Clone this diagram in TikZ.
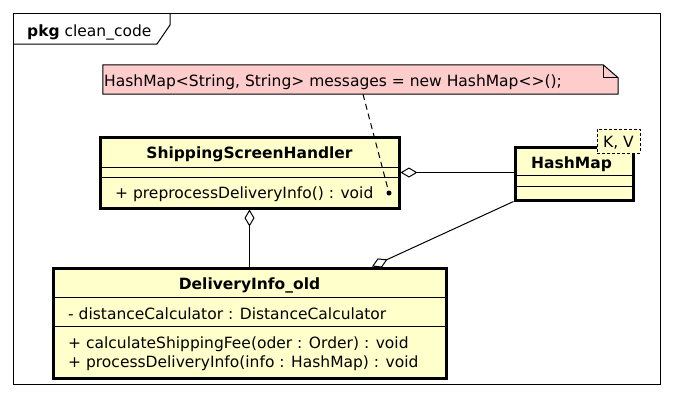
\documentclass[tikz,border=0pt]{standalone}
\usepackage{fontspec}
\setmainfont{DejaVu Sans}
\usetikzlibrary{arrows.meta, positioning, calc}
\definecolor{clsfill}{HTML}{FFFFCC}
\definecolor{notefill}{HTML}{FFCCCC}
\definecolor{ink}{HTML}{000000}

\tikzset{
  umltext/.style={font=\fontsize{15.5}{18}\selectfont, inner sep=0pt, text=ink},
  classbox/.style={draw=ink, fill=clsfill, line width=3pt, inner sep=0pt},
  sepline/.style={draw=ink, line width=1pt},
  aggr/.style={draw=ink, line width=1pt, {Diamond[open, length=17pt, width=10pt]}-},
  notelink/.style={draw=ink, line width=1pt, dash pattern=on 6pt off 4pt},
}

\begin{document}
\begin{tikzpicture}[x=1pt, y=-1pt]
\useasboundingbox (0,0) rectangle (673,400);

% Package frame
\node[draw=ink, line width=1pt, minimum width=647pt, minimum height=371.5pt, inner sep=0pt] (pkg) at (336.5,198.75) {};
\draw[ink, line width=1pt] (13,44) -- (157,44) -- (170,25) -- (170,13);
\node[umltext, anchor=base west] (pkgname) at (27,36) {\textbf{pkg} clean\_code};

% Note
\node[minimum width=515pt, minimum height=29pt, inner sep=0pt] (note) at (360.5,79.5) {};
\filldraw[fill=notefill, draw=ink, line width=1pt] (note.south west) -- (note.north west)
  -- ([xshift=-15pt]note.north east) -- ([yshift=-13pt]note.north east) -- (note.south east) -- cycle;
\draw[ink, line width=1pt] ([xshift=-15pt]note.north east) -- ([xshift=-15pt, yshift=-13pt]note.north east)
  -- ([yshift=-13pt]note.north east);
\node[umltext, anchor=base west] (notetext) at (104,86) {HashMap<String, String> messages = new HashMap<>();};

% ShippingScreenHandler
\node[classbox, minimum width=299pt, minimum height=71pt] (ssh) at (249.5,172.5) {};
\draw[sepline] (ssh.west |- 0,167) -- (ssh.east |- 0,167);
\draw[sepline] (ssh.west |- 0,177) -- (ssh.east |- 0,177);
\node[umltext, anchor=base] (sshname) at (249.5,158) {\textbf{ShippingScreenHandler}};
\node[umltext, anchor=base west] (sshop) at (115,198.5) {+ preprocessDeliveryInfo() : void};

% HashMap
\node[classbox, minimum width=118pt, minimum height=53pt] (hm) at (574,173.5) {};
\draw[sepline] (hm.west |- 0,175) -- (hm.east |- 0,175);
\draw[sepline] (hm.west |- 0,186) -- (hm.east |- 0,186);
\node[umltext, anchor=base west] (hmname) at (531,168) {\textbf{HashMap}};
\node[draw=ink, fill=clsfill, line width=1pt, dash pattern=on 3pt off 2pt, minimum width=43pt, minimum height=24pt, inner sep=0pt] (hmparam) at (618.5,141) {};
\node[umltext, anchor=base] (hmparamtext) at (618.5,147) {K, V};

% DeliveryInfo_old
\node[classbox, minimum width=393pt, minimum height=110pt] (dio) at (249.5,323) {};
\draw[sepline] (dio.west |- 0,297) -- (dio.east |- 0,297);
\draw[sepline] (dio.west |- 0,326) -- (dio.east |- 0,326);
\node[umltext, anchor=base] (dioname) at (249.5,289) {\textbf{DeliveryInfo\_old}};
\node[umltext, anchor=base west] (dioattr) at (68,319) {- distanceCalculator : DistanceCalculator};
\node[umltext, anchor=base west] (dioopa) at (68,348) {+ calculateShippingFee(oder : Order) : void};
\node[umltext, anchor=base west] (dioopb) at (68,367) {+ processDeliveryInfo(info : HashMap) : void};

% Aggregations
\draw[aggr] (ssh.east) -- (ssh.east -| hm.west);
\draw[aggr] (ssh.south) -- (dio.north);
\coordinate (diotip) at ([xshift=122.5pt]dio.north);
\draw[aggr] (diotip) -- (hm.south west);

% Note link
\coordinate (notept) at (389,193);
\draw[notelink] ([xshift=2.5pt]note.south) -- (notept);
\fill[ink] (notept) circle (2.5pt);

\end{tikzpicture}
\end{document}
